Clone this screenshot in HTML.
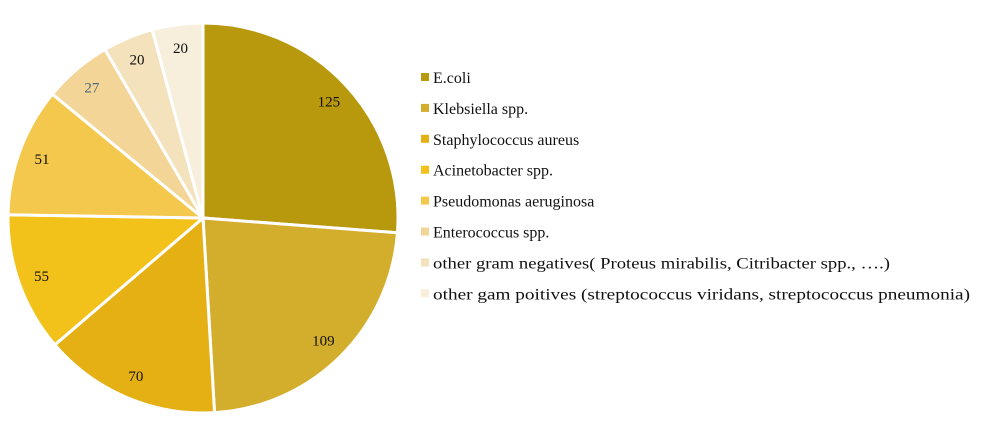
<!DOCTYPE html>
<html><head><meta charset="utf-8"><style>
body{margin:0;background:#fff;}
svg{display:block;font-family:"Liberation Serif","DejaVu Serif",serif;}
</style></head><body>
<svg id="chart" width="1000" height="430" viewBox="0 0 1000 430">
<g id="slices"></g>
<g id="labels"></g>
<g id="legend"></g>
</svg>
<script>
const categories = ["E.coli","Klebsiella spp.","Staphylococcus aureus","Acinetobacter spp.","Pseudomonas aeruginosa","Enterococcus spp.","other gram negatives( Proteus mirabilis, Citribacter spp., ….)","other gam poitives (streptococcus viridans, streptococcus pneumonia)"];
const values = [125,109,70,55,51,27,20,20];
const colors = ["#b8980c","#d3ad2c","#e4b014","#f3c21a","#f4c84c","#f2d597","#f4e2bd","#f8eedc"];
const ns="http://www.w3.org/2000/svg";
const cx=203, cy=218, R=195;
const total=values.reduce((a,b)=>a+b,0);
const sl=document.getElementById('slices'), lb=document.getElementById('labels'), lg=document.getElementById('legend');
function pt(a,r){return [cx+r*Math.sin(a), cy-r*Math.cos(a)];}
let acc=0;
values.forEach((v,i)=>{
  const a0=acc/total*2*Math.PI; acc+=v; const a1=acc/total*2*Math.PI;
  const p0=pt(a0,R), p1=pt(a1,R);
  const large=(a1-a0)>Math.PI?1:0;
  const p=document.createElementNS(ns,'path');
  p.setAttribute('d',`M${cx},${cy}L${p0[0]},${p0[1]}A${R},${R} 0 ${large} 1 ${p1[0]},${p1[1]}Z`);
  p.setAttribute('fill',colors[i]);
  p.setAttribute('stroke','#fff');
  p.setAttribute('stroke-width','3');
  
  
  sl.appendChild(p);
  const m=(a0+a1)/2, lp=pt(m,R*0.88);
  const t=document.createElementNS(ns,'text');
  t.setAttribute('x',lp[0]); t.setAttribute('y',lp[1]+5);
  t.setAttribute('text-anchor','middle'); t.setAttribute('font-size','15');
  t.setAttribute('fill', i===5?'#4a6a7a':'#111');
  t.textContent=v;
  
  
  lb.appendChild(t);
});
const widths=[null,null,null,null,null,null,457,537];
categories.forEach((c,i)=>{
  const y=78+i*30.9;
  const r=document.createElementNS(ns,'rect');
  r.setAttribute('x',421); r.setAttribute('y',y-5); r.setAttribute('width',8); r.setAttribute('height',8);
  r.setAttribute('fill',colors[i]);
  
  
  lg.appendChild(r);
  const t=document.createElementNS(ns,'text');
  t.setAttribute('x',433); t.setAttribute('y',y+5); t.setAttribute('font-size','16'); t.setAttribute('fill','#111');
  if(widths[i]){t.setAttribute('textLength',widths[i]); t.setAttribute('lengthAdjust','spacingAndGlyphs');}
  t.textContent=c;
  
  
  lg.appendChild(t);
});
</script>
</body></html>
